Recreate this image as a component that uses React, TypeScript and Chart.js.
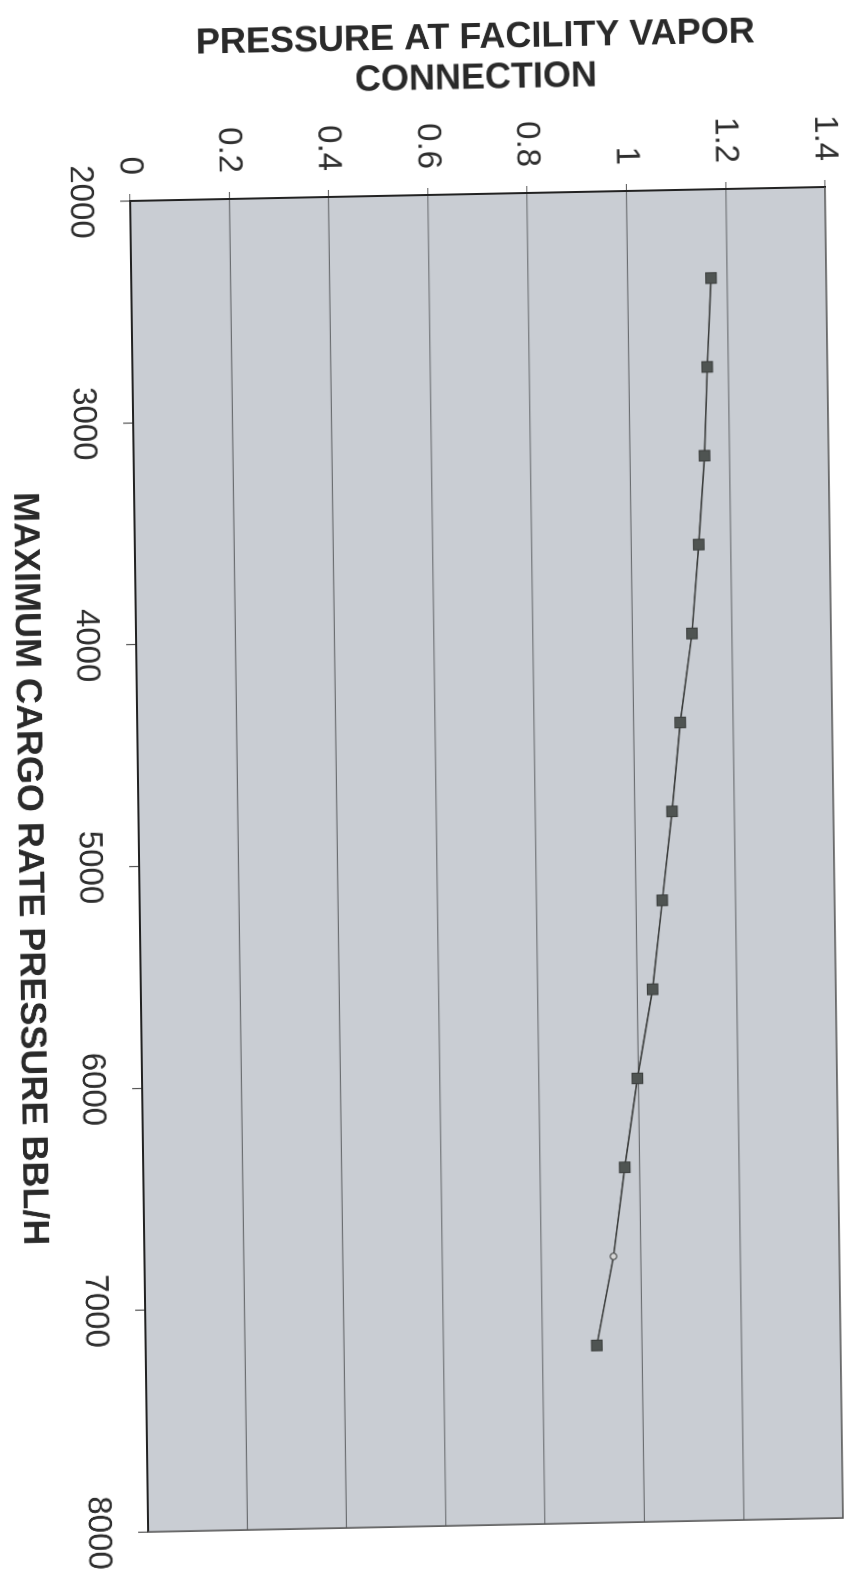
import { useEffect, useRef } from 'react';
import { Chart, registerables } from 'chart.js';

Chart.register(...registerables);

// ---- data read from the (rotated, scanned) reference ----
const cargoRates = [2400, 2800, 3200, 3600, 4000, 4400, 4800, 5200, 5600, 6000, 6400, 6800, 7200];
const facilityPressure = [1.168, 1.158, 1.15, 1.136, 1.12, 1.094, 1.075, 1.053, 1.031, 0.998, 0.97, 0.945, 0.909];
const rateTickLabels = ['2000', '3000', '4000', '5000', '6000', '7000', '8000'];
const pressureTickLabels = ['0', '0.2', '0.4', '0.6', '0.8', '1', '1.2', '1.4'];
const pressureTitle = ['PRESSURE AT FACILITY VAPOR', 'CONNECTION'];
const rateTitle = 'MAXIMUM CARGO RATE PRESSURE BBL/H';

const FONT = "'Liberation Sans', Arial, sans-serif";
const W = 1587;
const H = 850;

const noEdgePadding = (s: any) => {
  s.paddingTop = 0;
  s.paddingBottom = 0;
  s.paddingLeft = 0;
  s.paddingRight = 0;
};

const plotFrame = {
  id: 'plotFrame',
  beforeDraw(chart: any) {
    const { ctx, chartArea: a } = chart;
    ctx.save();
    ctx.fillStyle = '#c9cdd3';
    ctx.fillRect(a.left, a.top, a.right - a.left, a.bottom - a.top);
    ctx.restore();
  },
  beforeDatasetsDraw(chart: any) {
    const { ctx, chartArea: a } = chart;
    ctx.save();
    ctx.strokeStyle = '#555';
    ctx.lineWidth = 1.6;
    ctx.beginPath();
    ctx.moveTo(a.left, a.top);
    ctx.lineTo(a.right, a.top);
    ctx.lineTo(a.right, a.bottom);
    ctx.stroke();
    ctx.restore();
  },
};

export default function App() {
  const canvasRef = useRef<HTMLCanvasElement | null>(null);

  useEffect(() => {
    const canvas = canvasRef.current;
    if (!canvas) return;
    const chart = new Chart(canvas, {
      type: 'scatter',
      data: {
        datasets: [
          {
            data: cargoRates.map((r, i) => ({ x: r, y: facilityPressure[i] })),
            showLine: true,
            borderColor: '#3b3d3c',
            borderWidth: 1.6,
            pointStyle: (c: any) => (c.dataIndex === 11 ? 'circle' : 'rect'),
            pointRadius: (c: any) => (c.dataIndex === 11 ? 3.2 : 7.5),
            pointBackgroundColor: (c: any) => (c.dataIndex === 11 ? '#d6d6d6' : '#4f5452'),
            pointBorderColor: '#3a3d3c',
            pointBorderWidth: 1,
          },
        ],
      },
      options: {
        animation: false,
        responsive: false,
        devicePixelRatio: 2,
        layout: { padding: { top: 25, right: 56, bottom: 0, left: 0 } },
        plugins: {
          legend: { display: false },
          tooltip: { enabled: false },
        },
        scales: {
          x: {
            type: 'linear',
            position: 'bottom',
            min: 2000,
            max: 8000,
            afterFit: (s: any) => {
              s.height = 130;
              noEdgePadding(s);
            },
            ticks: {
              stepSize: 1000,
              autoSkip: false,
              maxRotation: 0,
              padding: 20,
              color: '#2e2e2e',
              font: { family: FONT, size: 33 },
              callback: (_v: any, i: number) => rateTickLabels[i],
            },
            grid: {
              drawOnChartArea: false,
              drawTicks: true,
              tickLength: 10,
              tickColor: '#555',
              tickWidth: 1.2,
            },
            border: { display: true, color: '#222', width: 2 },
            title: {
              display: true,
              text: rateTitle,
              color: '#2a2a2a',
              font: { family: FONT, size: 36, weight: 'bold', lineHeight: 1 },
              padding: { top: 0, bottom: 2 },
            },
          },
          y: {
            type: 'linear',
            position: 'left',
            min: 0,
            max: 1.4,
            afterFit: (s: any) => {
              s.width = 200;
              noEdgePadding(s);
            },
            ticks: {
              stepSize: 0.2,
              autoSkip: false,
              padding: 19,
              color: '#2e2e2e',
              font: { family: FONT, size: 33 },
              callback: (_v: any, i: number) => pressureTickLabels[i],
            },
            grid: {
              color: 'rgba(75,77,80,0.75)',
              lineWidth: 1.1,
              drawTicks: true,
              tickLength: 7,
              tickColor: '#666',
            },
            border: { display: true, color: '#222', width: 2 },
            title: {
              display: true,
              text: pressureTitle,
              color: '#2a2a2a',
              font: { family: FONT, size: 36, weight: 'bold', lineHeight: 1.12 },
              padding: { top: 24, bottom: 0 },
            },
          },
        },
      },
      plugins: [plotFrame],
    } as any);
    return () => chart.destroy();
  }, []);

  return (
    <div
      style={{
        position: 'absolute',
        left: 0,
        top: 0,
        width: 850,
        height: 1587,
        overflow: 'hidden',
        background: '#ffffff',
      }}
    >
      <canvas
        ref={canvasRef}
        width={W}
        height={H}
        style={{
          position: 'absolute',
          left: 0,
          top: 0,
          width: W,
          height: H,
          transformOrigin: '0 0',
          transform: 'matrix(0.01352, 1, -1, 0.02014, 847.3, -13.5)',
        }}
      />
    </div>
  );
}
